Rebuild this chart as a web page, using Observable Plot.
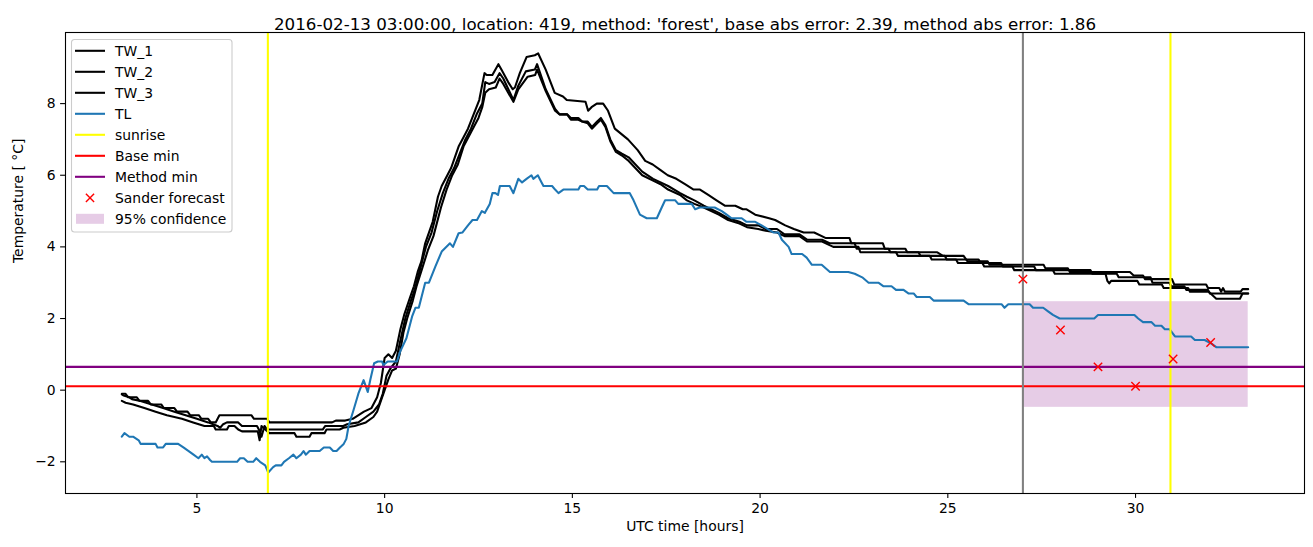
<!DOCTYPE html>
<html><head><meta charset="utf-8">
<script src="https://cdn.jsdelivr.net/npm/d3@7"></script>
<script src="https://cdn.jsdelivr.net/npm/@observablehq/plot@0.6"></script>
<style>html,body{margin:0;padding:0;background:#fff;} #chart svg{display:block;}</style>
</head><body><div id="chart"></div>
<script>
// ---------- data (hours UTC, temperature °C) ----------
const titleText = "2016-02-13 03:00:00, location: 419, method: 'forest', base abs error: 2.39, method abs error: 1.86";
const xLabel = "UTC time [hours]";
const yLabel = "Temperature [ °C]";
const xTicks = [5, 10, 15, 20, 25, 30];
const yTicks = [-2, 0, 2, 4, 6, 8];

const TW_1 = [[3.0,-0.1],[3.1,-0.1],[3.17,-0.2],[3.4,-0.2],[3.47,-0.3],[3.7,-0.3],[3.77,-0.4],[4.05,-0.4],[4.12,-0.5],[4.4,-0.5],[4.47,-0.6],[4.75,-0.6],[4.82,-0.7],[5.05,-0.7],[5.12,-0.8],[5.3,-0.8],[5.37,-0.9],[5.5,-0.9],[5.6,-0.7],[6.45,-0.7],[6.52,-0.8],[6.87,-0.8],[6.93,-0.9],[8.6,-0.9],[8.7,-0.85],[8.95,-0.85],[9.15,-0.8],[9.45,-0.6],[9.65,-0.5],[9.8,-0.2],[9.9,0.2],[10.0,0.9],[10.1,1.0],[10.2,0.9],[10.3,1.1],[10.42,1.7],[10.52,2.1],[10.68,2.6],[10.78,2.9],[10.88,3.3],[10.98,3.6],[11.08,4.1],[11.28,4.7],[11.42,5.4],[11.52,5.7],[11.67,6.0],[11.77,6.2],[11.87,6.5],[11.97,6.8],[12.07,7.0],[12.22,7.3],[12.37,7.7],[12.52,8.1],[12.66,8.85],[12.72,8.8],[12.87,8.8],[13.03,9.1],[13.11,8.95],[13.29,8.6],[13.41,8.4],[13.47,8.45],[13.6,8.85],[13.78,9.3],[14.0,9.35],[14.09,9.4],[14.29,8.95],[14.53,8.3],[14.75,8.2],[14.85,8.1],[15.35,8.05],[15.42,7.8],[15.51,7.9],[15.65,8.0],[15.82,8.0],[15.95,7.8],[16.13,7.3],[16.48,7.0],[16.74,6.7],[16.94,6.4],[17.14,6.3],[17.34,6.15],[17.54,6.0],[17.77,5.9],[18.0,5.75],[18.23,5.6],[18.4,5.6],[18.62,5.45],[18.84,5.3],[19.06,5.15],[19.34,5.15],[19.54,5.05],[19.64,5.05],[19.87,4.9],[20.24,4.8],[20.4,4.75],[20.67,4.6],[20.9,4.5],[21.16,4.4],[21.44,4.4],[21.74,4.25],[22.38,4.25],[22.43,4.1],[23.27,4.1],[23.32,3.95],[23.87,3.95],[23.92,3.85],[24.72,3.85],[24.87,3.75],[25.42,3.75],[25.52,3.6],[26.06,3.6],[26.11,3.5],[27.55,3.5],[27.6,3.4],[28.2,3.4],[28.25,3.3],[29.85,3.3],[29.95,3.2],[30.2,3.2],[30.25,3.1],[30.97,3.1],[31.03,2.95],[31.88,2.95],[31.93,2.85],[32.23,2.85],[32.28,2.75],[32.33,2.85],[32.38,2.75],[32.8,2.75],[32.85,2.82],[33.0,2.82]];

const TW_2 = [[3.0,-0.12],[3.05,-0.15],[3.2,-0.2],[3.27,-0.25],[3.5,-0.3],[3.8,-0.4],[4.1,-0.5],[4.4,-0.6],[4.7,-0.7],[5.0,-0.8],[5.3,-0.9],[5.55,-1.0],[5.62,-1.05],[5.7,-0.95],[5.8,-0.9],[6.1,-0.9],[6.2,-1.0],[6.6,-1.0],[6.65,-1.1],[6.72,-1.3],[6.8,-1.0],[6.87,-1.1],[8.35,-1.1],[8.42,-1.0],[8.9,-1.0],[9.0,-0.95],[9.3,-0.9],[9.5,-0.75],[9.7,-0.6],[9.85,-0.4],[9.95,-0.1],[10.05,0.4],[10.15,0.6],[10.3,0.8],[10.4,1.3],[10.55,2.0],[10.7,2.5],[10.8,2.8],[10.95,3.4],[11.1,4.0],[11.25,4.4],[11.4,5.0],[11.55,5.5],[11.7,5.9],[11.85,6.2],[12.0,6.6],[12.15,7.0],[12.3,7.3],[12.45,7.7],[12.6,8.0],[12.68,8.6],[12.78,8.55],[12.93,8.6],[13.06,8.85],[13.16,8.7],[13.43,8.1],[13.56,8.5],[13.76,8.9],[14.0,8.95],[14.06,9.1],[14.29,8.4],[14.54,7.85],[14.66,7.7],[14.86,7.7],[14.96,7.6],[15.16,7.6],[15.26,7.5],[15.41,7.5],[15.52,7.35],[15.66,7.5],[15.76,7.6],[15.88,7.4],[16.01,7.0],[16.16,6.7],[16.32,6.6],[16.5,6.5],[16.86,6.1],[17.15,5.9],[17.35,5.8],[17.55,5.7],[17.87,5.5],[18.05,5.4],[18.25,5.3],[18.5,5.15],[18.9,4.95],[19.15,4.8],[19.45,4.7],[19.65,4.6],[19.95,4.6],[20.15,4.5],[20.45,4.5],[20.65,4.35],[21.05,4.35],[21.25,4.2],[21.65,4.2],[21.85,4.1],[22.52,4.1],[22.57,3.95],[23.42,3.95],[23.47,3.85],[24.22,3.85],[24.27,3.75],[24.92,3.75],[24.97,3.65],[25.82,3.65],[25.87,3.55],[26.42,3.55],[26.47,3.45],[27.3,3.45],[27.35,3.35],[28.8,3.35],[28.85,3.25],[29.5,3.25],[29.55,3.15],[30.4,3.15],[30.45,3.0],[30.9,3.0],[30.95,2.9],[31.3,2.9],[31.35,2.8],[31.93,2.8],[31.98,2.7],[33.0,2.7]];

const TW_3 = [[3.0,-0.3],[3.1,-0.35],[3.3,-0.4],[3.6,-0.5],[3.9,-0.6],[4.2,-0.7],[4.6,-0.8],[4.9,-0.9],[5.2,-1.0],[5.45,-1.0],[5.5,-1.1],[5.8,-1.1],[5.85,-1.0],[6.0,-1.0],[6.1,-1.1],[6.2,-1.15],[6.62,-1.15],[6.67,-1.4],[6.72,-1.0],[6.82,-1.1],[6.93,-1.2],[7.6,-1.2],[7.65,-1.3],[8.0,-1.3],[8.05,-1.2],[8.4,-1.2],[8.45,-1.1],[8.8,-1.1],[8.9,-1.05],[9.2,-1.0],[9.5,-0.9],[9.7,-0.75],[9.8,-0.6],[9.9,-0.3],[10.0,0.0],[10.1,0.3],[10.2,0.55],[10.3,0.6],[10.4,1.0],[10.5,1.6],[10.6,2.0],[10.75,2.5],[10.85,2.9],[11.0,3.4],[11.15,3.9],[11.3,4.3],[11.5,5.1],[11.65,5.6],[11.8,6.0],[11.95,6.3],[12.1,6.8],[12.3,7.2],[12.5,7.6],[12.6,7.9],[12.68,8.3],[12.78,8.4],[12.96,8.45],[13.06,8.7],[13.16,8.55],[13.43,8.05],[13.56,8.4],[13.81,8.75],[14.01,8.8],[14.06,8.95],[14.29,8.35],[14.54,7.8],[14.66,7.7],[14.86,7.7],[14.96,7.55],[15.16,7.55],[15.26,7.5],[15.41,7.45],[15.52,7.3],[15.66,7.45],[15.76,7.55],[15.88,7.35],[16.01,6.95],[16.16,6.65],[16.32,6.55],[16.5,6.4],[16.86,6.0],[17.15,5.85],[17.35,5.75],[17.55,5.6],[17.87,5.45],[18.05,5.3],[18.25,5.2],[18.5,5.1],[18.9,4.9],[19.15,4.75],[19.45,4.65],[19.65,4.55],[19.95,4.5],[20.15,4.45],[20.45,4.4],[20.65,4.3],[21.05,4.3],[21.25,4.15],[21.65,4.15],[21.85,4.05],[21.95,4.0],[22.62,4.0],[22.67,3.85],[23.62,3.85],[23.67,3.75],[24.52,3.75],[24.57,3.65],[25.22,3.65],[25.27,3.55],[25.92,3.55],[25.97,3.45],[26.72,3.45],[26.77,3.35],[27.8,3.35],[27.85,3.25],[29.2,3.25],[29.25,3.05],[29.3,2.98],[29.35,3.05],[30.05,3.05],[30.1,2.95],[30.7,2.95],[30.75,2.85],[31.4,2.85],[31.45,2.75],[31.95,2.75],[32.15,2.55],[32.78,2.55],[32.85,2.7],[33.0,2.7]];

const TL = [[3.0,-1.3],[3.07,-1.2],[3.2,-1.3],[3.3,-1.3],[3.45,-1.4],[3.5,-1.5],[3.9,-1.5],[3.95,-1.6],[4.1,-1.6],[4.17,-1.5],[4.5,-1.5],[4.64,-1.6],[4.78,-1.7],[4.91,-1.8],[5.04,-1.9],[5.13,-1.8],[5.2,-1.9],[5.27,-1.85],[5.35,-1.95],[5.4,-2.0],[6.07,-2.0],[6.15,-1.9],[6.25,-1.9],[6.35,-2.0],[6.5,-2.0],[6.58,-1.9],[6.68,-2.0],[6.82,-2.1],[6.9,-2.3],[7.03,-2.15],[7.1,-2.1],[7.25,-2.1],[7.32,-2.0],[7.45,-1.9],[7.57,-1.8],[7.65,-1.9],[7.77,-1.8],[7.84,-1.7],[7.9,-1.8],[8.0,-1.7],[8.27,-1.7],[8.38,-1.6],[8.54,-1.6],[8.63,-1.7],[8.72,-1.7],[8.81,-1.6],[8.91,-1.5],[8.98,-1.36],[9.04,-1.0],[9.17,-0.56],[9.3,-0.1],[9.44,0.28],[9.55,-0.05],[9.62,0.3],[9.72,0.75],[9.82,0.8],[9.93,0.8],[9.97,0.7],[10.08,0.8],[10.33,0.8],[10.41,1.07],[10.58,1.45],[10.73,2.05],[10.82,2.3],[10.91,2.3],[11.08,3.0],[11.18,3.0],[11.35,3.45],[11.52,3.87],[11.74,4.1],[11.82,4.0],[11.97,4.38],[12.07,4.4],[12.22,4.6],[12.34,4.75],[12.46,4.75],[12.59,5.0],[12.67,4.95],[12.8,5.2],[12.87,5.5],[12.95,5.5],[13.02,5.45],[13.07,5.7],[13.33,5.7],[13.43,5.5],[13.56,5.9],[13.66,5.8],[13.78,5.9],[13.91,6.0],[13.96,5.9],[14.08,6.0],[14.18,5.8],[14.23,5.7],[14.46,5.7],[14.54,5.6],[14.63,5.5],[14.76,5.6],[15.16,5.6],[15.21,5.7],[15.31,5.7],[15.41,5.6],[15.66,5.6],[15.71,5.7],[15.92,5.7],[16.1,5.5],[16.53,5.5],[16.63,5.3],[16.8,4.9],[16.98,4.8],[17.25,4.8],[17.38,5.1],[17.47,5.3],[17.74,5.3],[17.82,5.2],[18.18,5.2],[18.27,5.05],[18.39,5.1],[18.79,5.1],[18.98,5.0],[19.11,4.9],[19.24,4.8],[19.51,4.8],[19.64,4.7],[19.87,4.7],[20.04,4.6],[20.36,4.4],[20.49,4.4],[20.58,4.2],[20.76,4.0],[20.84,3.8],[21.12,3.8],[21.24,3.7],[21.38,3.5],[21.64,3.5],[21.86,3.3],[22.35,3.3],[22.52,3.25],[22.72,3.15],[22.89,3.0],[23.15,3.0],[23.29,2.9],[23.5,2.9],[23.62,2.8],[23.82,2.8],[23.95,2.7],[24.09,2.7],[24.17,2.6],[24.52,2.6],[24.62,2.5],[25.42,2.5],[25.55,2.4],[26.43,2.4],[26.51,2.3],[26.61,2.4],[27.18,2.4],[27.27,2.3],[27.54,2.3],[27.67,2.2],[27.8,2.1],[27.98,2.0],[28.9,2.0],[29.0,2.1],[29.97,2.1],[30.07,2.0],[30.2,1.9],[30.42,1.9],[30.52,1.8],[30.69,1.8],[30.78,1.7],[30.91,1.7],[31.05,1.5],[31.48,1.5],[31.58,1.4],[31.84,1.4],[32.02,1.3],[32.15,1.2],[33.0,1.2]];

const sunriseHours = [6.89, 30.93];
const baseMin = [0.11];
const methodMin = [0.65];
const forecastIssue = [27];
const sanderHours = [27, 28, 29, 30, 31, 32];
const sanderTemp = [3.1, 1.68, 0.65, 0.11, 0.87, 1.33];
const confHours = [27, 33];
const confTemp = [-0.48, 2.47];

const legendLabels = ["TW_1", "TW_2", "TW_3", "TL", "sunrise", "Base min", "Method min", "Sander forecast", "95% confidence"];
const legendColors = ["black", "black", "black", "#1f77b4", "yellow", "red", "purple", "red", "purple"];
const legendKinds = ["line", "line", "line", "line", "line", "line", "line", "x", "patch"];

// ---------- build tables ----------
const rows = (pairs) => pairs.map(([h, t]) => ({h, t}));
const sander = sanderHours.map((h, i) => ({h, t: sanderTemp[i]}));
const conf = [{x1: confHours[0], x2: confHours[1], y1: confTemp[0], y2: confTemp[1]}];

const LW = 2.08;
const chart = Plot.plot({
  width: 1313, height: 547,
  marginLeft: 65, marginRight: 9, marginTop: 32, marginBottom: 54,
  style: {fontFamily: "'DejaVu Sans', sans-serif", fontSize: "13.9px", color: "black", background: "white", overflow: "visible"},
  x: {domain: [1.5, 34.5], label: null},
  y: {domain: [-2.885, 9.985], label: null},
  marks: [
    Plot.rect(conf, {x1: "x1", x2: "x2", y1: "y1", y2: "y2", fill: "purple", fillOpacity: 0.2}),
    Plot.line(rows(TW_1), {x: "h", y: "t", stroke: "black", strokeWidth: LW}),
    Plot.line(rows(TW_2), {x: "h", y: "t", stroke: "black", strokeWidth: LW}),
    Plot.line(rows(TW_3), {x: "h", y: "t", stroke: "black", strokeWidth: LW}),
    Plot.line(rows(TL), {x: "h", y: "t", stroke: "#1f77b4", strokeWidth: LW}),
    Plot.ruleX(sunriseHours, {stroke: "yellow", strokeWidth: LW}),
    Plot.ruleY(baseMin, {stroke: "red", strokeWidth: LW}),
    Plot.ruleY(methodMin, {stroke: "purple", strokeWidth: LW}),
    Plot.ruleX(forecastIssue, {stroke: "gray", strokeWidth: LW}),
    Plot.dot(sander, {x: "h", y: "t", symbol: "times", r: 3.9, stroke: "red", strokeWidth: 1.4}),
    Plot.frame({stroke: "black", strokeWidth: 1.1}),
    Plot.axisX({ticks: xTicks, tickSize: 4.9, tickPadding: 4.9, strokeWidth: 1.1, tickFormat: d => String(d)}),
    Plot.axisY({ticks: yTicks, tickSize: 4.9, tickPadding: 4.9, strokeWidth: 1.1}),
    Plot.text([titleText], {frameAnchor: "top", dy: -14, fontSize: 16.7, fill: "black"}),
    Plot.text([xLabel], {frameAnchor: "bottom", dy: 37, fontSize: 13.9, fill: "black"}),
    Plot.text([yLabel], {frameAnchor: "left", dx: -47, rotate: -90, fontSize: 13.9, fill: "black"})
  ]
});
document.getElementById("chart").append(chart);

// ---------- legend (matplotlib-style box, upper left) ----------
const svg = d3.select(chart);
const lg = svg.append("g").attr("transform", "translate(71.5,39.5)")
  .attr("text-anchor", "start").attr("font-family", "'DejaVu Sans', sans-serif");
lg.append("rect").attr("width", 160.5).attr("height", 192.5).attr("rx", 3)
  .attr("fill", "white").attr("fill-opacity", 0.8).attr("stroke", "#cccccc").attr("stroke-width", 1.1);
legendLabels.forEach((lab, i) => {
  const cy = 11.3 + i * 21.0;
  const g = lg.append("g").attr("transform", `translate(0,${cy})`);
  const kind = legendKinds[i], col = legendColors[i];
  if (kind === "line") {
    g.append("line").attr("x1", 3.5).attr("x2", 33.5).attr("y1", 0).attr("y2", 0)
      .attr("stroke", col).attr("stroke-width", LW);
  } else if (kind === "x") {
    const r = 4.1;
    g.append("path").attr("d", `M${18.5 - r},${-r}L${18.5 + r},${r}M${18.5 - r},${r}L${18.5 + r},${-r}`)
      .attr("stroke", col).attr("stroke-width", 1.4).attr("fill", "none");
  } else {
    g.append("rect").attr("x", 4.5).attr("y", -5).attr("width", 28).attr("height", 10)
      .attr("fill", col).attr("fill-opacity", 0.2);
  }
  g.append("text").attr("x", 43.5).attr("y", 0).attr("dy", "0.36em")
    .attr("text-anchor", "start").attr("font-size", 13.9).attr("fill", "black").text(lab);
});
</script></body></html>
